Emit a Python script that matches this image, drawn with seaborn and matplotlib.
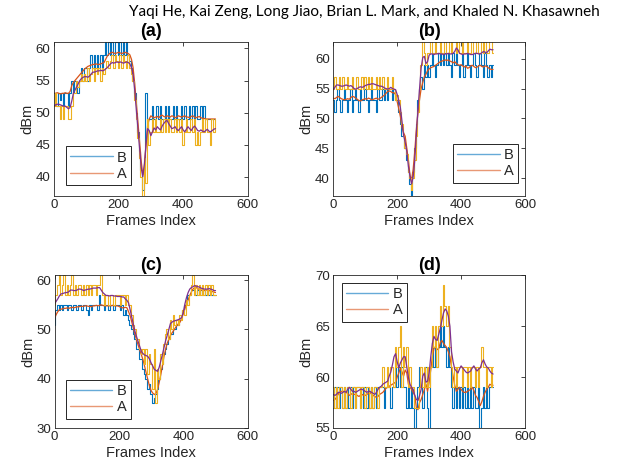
import matplotlib
matplotlib.use("Agg")
import matplotlib.pyplot as plt
import seaborn as sns
from matplotlib.lines import Line2D

# ---------------- data (frame step = 5) ----------------
frames = list(range(0, 501, 5))

a_B_raw = [53,53,51,53,52,53,51,53,53,51,
           53,55,53,55,55,53,55,57,55,57,
           57,55,57,59,57,59,57,59,57,59,
           57,59,61,59,61,59,61,59,61,61,
           59,61,59,61,59,61,59,58,57,55,
           53,50,47,44,41,38,41,53,47,49,
           49,51,49,49,51,49,51,49,49,51,
           49,51,49,49,51,49,51,49,49,51,
           49,51,49,49,51,49,51,49,51,49,
           49,51,49,51,49,49,49,49,49,49,
           49]
a_A_smooth = [53.0,53.0,53.1,53.0,52.9,53.0,53.0,53.1,53.0,53.0,
              53.3,54.2,54.7,55.0,55.3,55.6,55.9,56.2,56.5,56.8,
              57.0,57.2,57.3,57.4,57.5,57.5,57.6,57.5,57.5,57.6,
              57.7,57.8,58.3,58.8,59.1,59.3,59.4,59.3,59.2,59.3,
              59.4,59.3,59.2,59.3,59.4,59.3,59.2,59.0,58.3,57.0,
              54.5,51.5,48.5,45.5,42.5,40.3,41.5,45.0,48.0,49.0,
              49.5,49.3,49.2,49.3,49.4,49.2,49.5,49.6,49.4,49.3,
              49.5,49.4,49.3,49.5,49.4,49.2,49.3,49.5,49.4,49.3,
              49.4,49.5,49.3,49.3,49.2,49.4,49.5,49.3,49.2,49.3,
              49.4,49.2,49.1,49.1,49.0,49.0,49.0,49.0,49.0,49.0,
              49.0]
a_Y_raw = [51,53,51,51,49,51,49,51,51,49,
           49,51,53,53,55,54,55,56,55,56,
           55,57,55,56,57,55,57,56,57,55,
           57,56,57,58,57,58,59,57,59,58,
           57,59,57,59,58,57,59,57,56,55,
           52,49,46,43,40,37,43,39,49,45,
           47,49,47,49,47,47,49,47,49,47,
           49,47,49,47,47,49,47,49,47,49,
           45,47,49,47,47,49,47,49,45,47,
           45,47,49,47,49,47,47,45,49,47,
           49]
a_P_smooth = [51.0,51.2,51.3,51.3,51.2,51.1,51.0,51.0,50.8,50.6,
              50.8,51.8,53.0,53.5,54.0,54.5,55.0,55.3,55.5,55.6,
              55.6,55.5,55.7,56.0,56.3,56.3,56.4,56.5,56.5,56.6,
              56.5,56.6,56.8,57.0,57.3,57.6,57.8,57.7,57.8,57.9,
              57.8,57.9,57.8,57.7,57.8,57.9,57.8,57.6,57.0,56.0,
              53.5,50.5,47.5,44.5,41.5,40.0,42.0,45.0,47.5,47.2,
              46.4,47.0,47.6,47.3,47.8,47.5,47.3,47.9,48.3,48.6,
              48.8,48.3,47.9,47.5,47.6,47.8,47.4,47.2,47.5,47.8,
              47.3,47.0,47.4,47.8,47.5,47.2,47.6,47.9,47.6,47.2,
              47.1,47.3,47.1,47.0,47.2,47.4,47.1,47.0,47.2,47.4,
              47.5]

b_B_raw = [53,51,53,55,53,51,53,55,53,51,
           53,55,51,53,55,53,51,55,53,53,
           55,53,51,53,55,53,53,51,55,53,
           53,55,53,55,53,55,55,53,55,53,
           53,51,49,47,47,45,43,41,39,36,
           41,45,49,53,55,57,55,59,57,59,
           57,59,61,59,57,59,61,59,61,59,
           61,59,61,59,57,61,59,61,59,57,
           59,61,57,59,61,59,57,59,61,59,
           57,59,61,59,57,61,59,57,59,57,
           59]
b_A_smooth = [53.4,53.3,53.5,53.7,53.5,53.3,53.2,53.1,53.2,53.3,
              53.2,53.5,53.7,53.6,53.4,53.2,53.0,52.9,53.1,53.2,
              53.3,53.2,53.4,53.3,53.1,53.2,53.3,53.4,53.2,53.3,
              53.5,53.7,53.9,54.2,54.5,54.6,54.5,54.3,54.3,54.0,
              52.8,51.6,50.3,48.5,47.6,47.0,45.0,43.0,40.5,39.6,
              41.5,44.5,48.2,51.0,53.2,55.0,56.0,57.0,57.4,58.0,
              58.3,58.5,58.6,58.7,58.9,59.1,59.3,59.5,59.6,59.7,
              59.8,59.7,59.8,59.6,59.5,59.3,59.5,59.2,59.0,58.9,
              59.0,58.8,58.6,58.8,58.4,58.5,58.8,58.9,58.7,58.5,
              58.6,58.8,58.9,58.7,58.6,58.8,58.7,58.5,58.3,58.2,
              58.2]
b_Y_raw = [55,57,55,55,57,55,57,55,55,57,
           55,55,57,55,55,57,55,55,57,55,
           57,55,57,55,57,55,55,57,55,57,
           55,57,55,55,57,55,55,57,55,53,
           54,53,51,49,47,45,44,41,40,38,
           40,43,47,51,55,59,63,61,59,61,
           61,63,61,61,63,61,61,63,61,61,
           63,61,61,63,61,63,63,61,63,61,
           61,63,61,61,63,61,61,63,61,61,
           63,61,61,63,61,63,61,61,63,63,
           61]
b_P_smooth = [54.8,55.2,55.6,55.6,55.5,55.4,55.4,55.5,55.6,55.5,
              55.4,55.5,55.3,55.0,54.9,55.0,55.2,55.3,55.2,55.3,
              55.5,55.6,55.7,55.7,55.8,55.8,55.7,55.6,55.5,55.4,
              55.4,55.3,55.1,55.0,54.9,55.0,55.2,55.0,54.9,54.8,
              54.0,53.0,51.8,49.5,47.2,46.0,44.5,42.0,40.3,39.0,
              40.2,43.0,47.5,51.5,55.0,58.5,60.2,60.4,59.2,59.5,
              60.6,60.8,60.8,60.7,60.8,60.8,60.9,60.8,60.8,60.7,
              60.8,60.8,60.9,60.8,60.8,60.9,61.2,61.8,61.5,60.9,
              60.8,60.7,60.8,60.8,60.9,60.8,60.7,60.7,60.8,60.9,
              60.9,60.8,60.8,61.0,61.2,61.1,61.0,61.3,61.6,61.5,
              61.5]

c_B_raw = [51,54,55,54,55,54,55,55,54,55,
           55,54,55,55,54,55,55,54,55,55,
           54,53,55,54,55,55,55,54,57,55,
           55,54,55,55,54,55,55,54,55,55,
           55,54,55,53,54,53,52,51,50,49,
           48,46,46,44,44,42,41,40,38,39,
           37,35,36,37,38,40,42,43,45,46,
           47,48,49,49,50,50,51,51,52,53,
           54,55,55,57,57,58,58,58,57,58,
           57,58,57,58,57,58,57,58,57,57,
           57]
c_A_smooth = [52.2,53.0,53.6,54.0,54.1,54.2,54.3,54.3,54.4,54.3,
              54.4,54.5,54.4,54.5,54.6,54.6,54.7,54.7,54.7,54.8,
              54.8,54.7,54.7,54.6,54.8,54.8,54.9,54.8,54.9,55.0,
              54.9,54.8,54.8,54.8,54.8,54.8,54.9,54.8,54.8,54.8,
              54.7,54.5,54.4,54.4,54.5,54.4,53.6,52.8,51.5,50.2,
              49.0,47.8,46.8,45.8,44.8,43.8,42.5,41.1,39.8,38.5,
              37.6,37.1,36.8,37.0,37.8,39.2,40.8,42.6,44.5,46.0,
              47.2,48.0,48.8,49.3,49.8,50.3,50.8,51.2,51.5,52.3,
              53.2,54.2,55.2,56.0,56.9,57.6,58.2,58.5,58.5,58.3,
              58.1,58.0,58.0,57.9,58.0,58.0,57.9,57.8,57.7,57.6,
              57.5]
c_Y_raw = [55,57,59,61,57,59,61,57,59,57,
           59,61,57,59,57,59,59,57,59,57,
           59,57,59,57,59,59,57,59,59,61,
           57,55,57,57,55,57,57,55,57,57,
           57,55,57,57,55,57,55,55,53,51,
           50,48,48,46,45,46,43,46,41,45,
           43,38,46,35,42,40,45,43,47,49,
           50,48,52,50,53,51,52,51,53,52,
           54,53,56,55,57,59,61,57,59,57,
           59,57,59,57,59,57,59,57,59,57,
           57]
c_P_smooth = [55.2,55.7,56.2,56.8,57.2,57.3,57.4,57.5,57.5,57.7,
              58.0,58.0,57.9,57.9,58.0,58.2,58.2,58.1,57.9,58.0,
              58.1,58.2,58.2,58.3,58.4,58.4,58.4,58.5,58.5,58.0,
              57.5,57.2,56.9,56.9,56.8,56.9,56.9,56.8,56.8,56.7,
              56.7,56.7,56.6,56.6,56.2,55.9,55.4,54.0,52.5,51.0,
              49.6,48.5,47.5,46.5,45.5,45.1,44.8,44.7,44.5,44.0,
              43.2,42.6,41.9,41.7,41.5,42.3,43.6,44.9,46.3,47.7,
              48.8,50.0,51.2,51.5,51.7,51.8,51.9,52.0,52.2,52.4,
              53.5,55.2,56.5,57.5,58.2,58.5,58.7,58.9,58.8,58.7,
              58.6,58.4,58.3,58.2,58.2,58.2,58.3,58.2,58.1,57.9,
              57.9]

d_B_raw = [57,59,57,59,57,59,57,59,57,59,
           57,59,57,59,57,59,59,57,59,57,
           59,57,59,57,59,57,59,57,59,59,
           59,59,57,59,59,59,57,59,59,61,
           59,61,59,61,59,59,57,59,57,59,
           57,55,57,59,61,59,57,59,61,57,
           55,61,63,61,63,61,63,65,63,65,
           63,61,63,61,59,57,59,57,59,57,
           59,57,59,57,59,57,59,57,59,57,
           57,59,55,57,59,57,59,57,59,59,
           59]
d_A_smooth = [57.7,57.8,58.0,58.3,58.5,58.6,58.6,58.6,58.5,58.4,
              58.2,58.3,58.4,58.3,58.3,58.2,58.1,58.2,58.3,58.2,
              58.2,58.3,58.4,58.5,58.3,58.2,58.1,58.0,58.1,58.3,
              58.4,58.5,58.7,58.9,59.0,59.1,59.2,59.3,59.4,59.5,
              60.0,60.4,60.9,60.5,60.1,60.7,60.4,59.3,59.0,58.8,
              58.5,58.2,57.0,56.8,57.5,57.8,58.3,58.8,59.3,58.6,
              59.5,60.7,62.0,62.8,63.0,62.7,62.8,63.4,63.6,63.3,
              63.1,62.9,62.5,62.0,61.0,60.1,59.2,58.6,58.8,59.0,
              58.8,58.6,58.5,58.5,58.6,58.7,58.8,59.0,58.7,58.2,
              58.0,57.6,57.2,57.6,58.1,58.5,58.8,59.0,59.3,59.2,
              59.2]
d_Y_raw = [59,57,59,57,59,59,57,59,57,59,
           59,57,59,59,57,59,59,57,59,59,
           57,59,59,57,59,57,59,59,57,59,
           59,61,59,59,61,59,61,61,59,63,
           61,63,65,59,63,61,63,59,61,59,
           59,57,57,57,59,61,59,61,59,61,
           59,61,65,63,65,61,65,67,65,69,
           67,65,67,63,61,59,61,59,61,61,
           61,59,61,61,59,61,59,61,61,59,
           61,59,61,63,61,61,59,61,61,59,
           61]
d_P_smooth = [58.3,58.2,58.3,58.5,58.5,58.4,58.5,58.6,58.5,58.8,
              59.0,58.8,58.6,58.6,58.5,58.6,58.7,58.8,58.8,58.7,
              58.6,58.5,58.6,58.6,58.5,58.4,58.3,58.5,58.8,59.0,
              59.1,59.3,59.4,59.5,59.6,60.1,60.5,61.2,62.0,62.3,
              61.5,60.9,61.4,61.7,62.0,62.0,61.0,60.0,59.3,59.0,
              58.8,58.2,57.8,57.7,58.2,58.8,60.1,60.4,59.5,59.6,
              60.4,62.0,63.3,64.0,63.7,63.6,64.2,64.8,65.6,66.3,
              66.7,66.5,66.0,65.0,62.5,61.5,60.8,60.6,60.4,60.8,
              61.1,60.9,60.7,60.5,60.4,60.5,60.6,60.9,61.1,60.8,
              60.6,60.8,60.9,61.4,61.7,61.3,61.0,60.9,60.6,60.4,
              60.3]

panel_titles = ["(a)", "(b)", "(c)", "(d)"]
legend_labels = ["B", "A"]
x_ticks = [0, 200, 400, 600]
y_ticks = [[40, 45, 50, 55, 60], [40, 45, 50, 55, 60], [30, 40, 50, 60], [55, 60, 65, 70]]
y_lims = [(37, 61), (37, 62.8), (30, 61), (55, 70)]
header = "Yaqi He, Kai Zeng, Long Jiao, Brian L. Mark, and Khaled N. Khasawneh"

# ---------------- style ----------------
sns.set_theme(style="white")
plt.rcParams["font.family"] = ["Liberation Sans", "DejaVu Sans"]

BLUE = "#0072BD"
ORANGE = "#D95319"
YELLOW = "#EDB120"
PURPLE = "#7E2F8E"
AXC = "#262626"

W, H = 629, 472
fig = plt.figure(figsize=(W / 100, H / 100), dpi=100)

def frac(l, t, r, b):
    return [l / W, 1 - b / H, (r - l) / W, (b - t) / H]

positions = [frac(54, 42, 247.7, 196), frac(333.3, 42, 525, 196),
             frac(54.5, 275.3, 247.7, 428), frac(333.3, 275.3, 525, 428)]
legend_cfg = [("lower left", (0.062, 0.071)), ("lower right", (0.965, 0.087)),
              ("lower left", (0.057, 0.060)), ("upper left", (0.044, 0.950))]

series = [(a_B_raw, a_A_smooth, a_Y_raw, a_P_smooth),
          (b_B_raw, b_A_smooth, b_Y_raw, b_P_smooth),
          (c_B_raw, c_A_smooth, c_Y_raw, c_P_smooth),
          (d_B_raw, d_A_smooth, d_Y_raw, d_P_smooth)]

for i in range(4):
    ax = fig.add_axes(positions[i])
    B, A, Y, P = series[i]
    sns.lineplot(x=frames, y=B, ax=ax, color=BLUE, linewidth=0.8, estimator=None,
                 drawstyle="steps-mid")
    sns.lineplot(x=frames, y=A, ax=ax, color=ORANGE, linewidth=0.9, estimator=None)
    sns.lineplot(x=frames, y=Y, ax=ax, color=YELLOW, linewidth=0.8, estimator=None,
                 drawstyle="steps-mid")
    sns.lineplot(x=frames, y=P, ax=ax, color=PURPLE, linewidth=0.9, estimator=None)
    ax.set_xlim(0, 600)
    ax.set_ylim(*y_lims[i])
    ax.set_xticks(x_ticks)
    ax.set_yticks(y_ticks[i])
    ax.tick_params(direction="in", top=True, right=True, length=3, width=0.6,
                   colors=AXC, labelsize=9.5, pad=2.5)
    for s in ax.spines.values():
        s.set_color(AXC)
        s.set_linewidth(0.6)
    ax.set_xlabel("Frames Index", fontsize=10.5, color=AXC, labelpad=1.5)
    ax.set_ylabel("dBm", fontsize=10.5, color=AXC, labelpad=1)
    ax.set_title(panel_titles[i], fontsize=13, fontweight="bold", color="black", pad=4)
    handles = [Line2D([0], [0], color=BLUE, lw=1.0, alpha=0.6),
               Line2D([0], [0], color=ORANGE, lw=1.0, alpha=0.6)]
    loc, anchor = legend_cfg[i]
    leg = ax.legend(handles, legend_labels, loc=loc, bbox_to_anchor=anchor,
                    borderaxespad=0, fontsize=10.5, frameon=True, fancybox=False,
                    edgecolor=AXC, framealpha=1, handlelength=2.9,
                    handletextpad=0.3, borderpad=0.3, labelspacing=0.15)
    leg.get_frame().set_linewidth(0.7)

fig.text(364 / W, 1 - 12 / H, header, ha="center", va="center",
         fontsize=11, family=["Lato", "DejaVu Sans"], color="black")

fig.savefig("out.png", dpi=100)
